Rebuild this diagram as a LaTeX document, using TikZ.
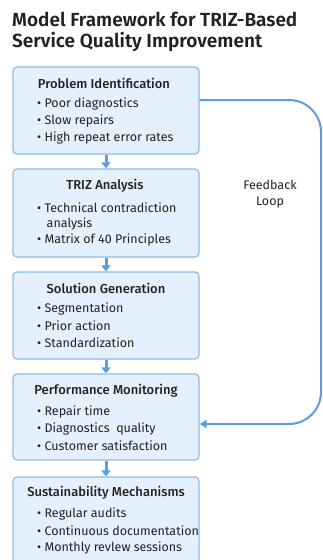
\documentclass[tikz,border=0pt]{standalone}
\usepackage{fontspec}
\setmainfont{Fira Sans}
\newfontfamily\medfont{Fira Sans Medium}
\newfontfamily\semifont{Fira Sans SemiBold}
\usetikzlibrary{arrows.meta}

\definecolor{boxfill}{HTML}{E4F0FC}
\definecolor{boxline}{HTML}{8EBCE8}
\definecolor{flowblue}{HTML}{5C9EE0}
\definecolor{ink}{HTML}{222222}

\tikzset{
  stage/.style={draw=boxline, fill=boxfill, line width=1.2pt, rounded corners=4pt,
    minimum width=186pt, inner sep=0pt},
  head/.style={text=ink, font=\fontsize{13}{15}\selectfont\medfont, inner sep=0pt},
  item/.style={text=ink, font=\fontsize{12.5}{14}\selectfont, inner sep=0pt, anchor=west},
  flow/.style={draw=flowblue, line width=3pt, -{Triangle[width=9pt,length=6pt]}},
  loop/.style={draw=flowblue, line width=2pt, rounded corners=32pt,
    -{Triangle[width=8pt,length=7pt]}},
  ttl/.style={text=ink, font=\fontsize{19}{22}\selectfont\semifont, inner sep=0pt, anchor=west},
}

\begin{document}
\begin{tikzpicture}[x=1pt, y=-1pt]
\useasboundingbox (0,0) rectangle (322,560);
\clip (0,0) rectangle (322,560);
\fill[white] (0,0) rectangle (322,560);

% title
\node[ttl] (t1) at (12,19) {Model Framework for TRIZ-Based};
\node[ttl] (t2) at (12,42) {Service Quality Improvement};

% stage boxes
\node[stage, minimum height=87pt] (b1) at (106,110.5) {};
\node[stage, minimum height=88pt] (b2) at (106,213) {};
\node[stage, minimum height=87pt] (b3) at (106,315.5) {};
\node[stage, minimum height=86pt] (b4) at (106,417) {};
\node[stage, minimum height=96pt] (b5) at (106,525) {};

% stage 1
\node[head] (h1) at (104,83) {Problem Identification};
\node[item] (i11) at (37,104) {• Poor diagnostics};
\node[item] (i12) at (37,121) {• Slow repairs};
\node[item] (i13) at (37,138) {• High repeat error rates};

% stage 2
\node[head] (h2) at (105,186) {TRIZ Analysis};
\node[item] (i21) at (37,208) {• Technical contradiction};
\node[item] (i22) at (46.5,224) {analysis};
\node[item] (i23) at (37,240) {• Matrix of 40 Principles};

% stage 3
\node[head] (h3) at (106,288) {Solution Generation};
\node[item] (i31) at (37,309) {• Segmentation};
\node[item] (i32) at (37,326) {• Prior action};
\node[item] (i33) at (37,343) {• Standardization};

% stage 4
\node[head] (h4) at (106,391) {Performance Monitoring};
\node[item] (i41) at (37,412) {• Repair time};
\node[item] (i42) at (37,429) {• Diagnostics\ \ quality};
\node[item] (i43) at (37,446) {• Customer satisfaction};

% stage 5
\node[head] (h5) at (106,493) {Sustainability Mechanisms};
\node[item] (i51) at (37,514) {• Regular audits};
\node[item] (i52) at (37,531) {• Continuous documentation};
\node[item] (i53) at (37,548) {• Monthly revlew sessions};

% flow between stages
\draw[flow] (b1.south) -- (b2.north);
\draw[flow] (b2.south) -- (b3.north);
\draw[flow] (b3.south) -- (b4.north);
\draw[flow] (b4.south) -- (b5.north);

% feedback loop
\coordinate (fbout) at ([yshift=10.5pt]b1.east);
\coordinate (fbin) at ([yshift=-7pt]b4.east);
\draw[loop] (fbout) -- (321,100) -- (321,424) -- (fbin);
\node[text=ink, font=\fontsize{12.5}{16}\selectfont, align=center, inner sep=0pt] (fbl) at (270,194) {Feedback\\Loop};
\end{tikzpicture}
\end{document}
